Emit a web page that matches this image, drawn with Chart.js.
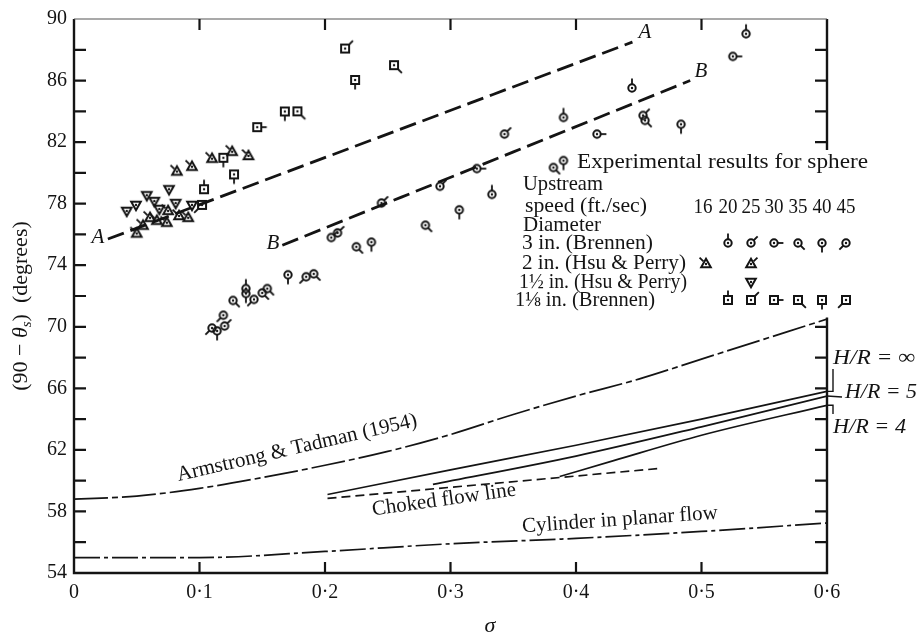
<!DOCTYPE html>
<html>
<head>
<meta charset="utf-8">
<script src="https://cdn.jsdelivr.net/npm/chart.js@4.4.0/dist/chart.umd.min.js"></script>
<style>
  html, body { margin: 0; padding: 0; background: #fff; }
  #wrap { width: 922px; height: 641px; }
</style>
</head>
<body>
<div id="wrap"><canvas id="chart" width="922" height="641"></canvas></div>
<script>
// ---- data (sigma, 90 - theta_s) ----
const xTicks = [0, 0.1, 0.2, 0.3, 0.4, 0.5, 0.6];
const yTickLabels = [54, 58, 62, 66, 70, 74, 78, 82, 86, 90];
const speeds = [16, 20, 25, 30, 35, 40, 45];

// dashed lines A and B
const lineAx = [0.027, 0.445];
const lineAy = [75.7, 88.5];
const lineBx = [0.166, 0.491];
const lineBy = [75.3, 86.0];

// Armstrong & Tadman (1954)
const armX = [0, 0.05, 0.1, 0.15, 0.2, 0.25, 0.3, 0.35, 0.4, 0.45, 0.5, 0.55, 0.6];
const armY = [58.8, 59.0, 59.5, 60.2, 61.0, 61.9, 63.0, 64.3, 65.5, 66.6, 67.9, 69.2, 70.5];

// H/R curves
const hrInfX = [0.202, 0.3, 0.4, 0.5, 0.6];
const hrInfY = [59.1, 60.7, 62.3, 64.0, 65.8];
const hr5X = [0.286, 0.4, 0.5, 0.6];
const hr5Y = [59.76, 61.6, 63.5, 65.5];
const hr4X = [0.387, 0.43, 0.5, 0.6];
const hr4Y = [60.27, 61.3, 62.95, 64.9];

// choked flow line
const chokedX = [0.202, 0.465];
const chokedY = [58.85, 60.78];

// cylinder in planar flow
const cylX = [0, 0.1, 0.2, 0.3, 0.4, 0.5, 0.6];
const cylY = [55.0, 55.0, 55.4, 55.9, 56.25, 56.7, 57.25];

// 3 in. (Brennen) circles, by upstream speed
const circ20 = [[0.39, 83.6], [0.333, 78.6], [0.5355, 89.04], [0.4446, 85.52], [0.137, 72.48]];
const circ25 = [[0.343, 82.52], [0.2916, 79.13], [0.245, 78.04], [0.4534, 83.73], [0.12, 70.05], [0.205, 75.8], [0.21, 76.1]];
const circ30 = [[0.321, 80.28], [0.525, 87.57], [0.4167, 82.52]];
const circ35 = [[0.382, 80.35], [0.455, 83.41], [0.191, 73.44], [0.15, 72.2], [0.154, 72.48], [0.1267, 71.71], [0.225, 75.2], [0.28, 76.6]];
const circ40 = [[0.39, 80.8], [0.4837, 83.16], [0.1705, 73.38], [0.137, 72.16], [0.114, 69.73], [0.237, 75.5], [0.307, 77.6]];
const circ45 = [[0.185, 73.25], [0.1434, 71.78], [0.119, 70.75], [0.11, 69.92]];

// 1 1/8 in. (Brennen) squares
const sq20 = [[0.1036, 78.94]];
const sq25 = [[0.216, 88.08]];
const sq30 = [[0.146, 82.97]];
const sq35 = [[0.178, 84.0], [0.255, 87.0]];
const sq40 = [[0.168, 83.99], [0.119, 80.98], [0.1275, 79.9], [0.224, 86.04]];
const sq45 = [[0.102, 77.92]];

// 2 in. (Hsu & Perry) triangles
const tri16 = [[0.082, 80.09], [0.094, 80.4], [0.11, 80.92], [0.126, 81.37], [0.139, 81.1],
    [0.050, 76.06], [0.055, 76.57], [0.0606, 77.08], [0.066, 76.89], [0.074, 76.76], [0.0837, 77.2], [0.091, 77.08], [0.075, 77.53]];

// 1 1/2 in. (Hsu & Perry) inverted triangles
const triDown25 = [[0.0757, 78.94], [0.058, 78.55], [0.064, 78.17], [0.068, 77.66], [0.081, 78.04], [0.094, 77.92], [0.0494, 77.92], [0.042, 77.53]];

// ---- drawing ----
const INK = '#141414';
const SERIF = '"Liberation Serif", "DejaVu Serif", serif';

// flag direction per speed (screen degrees, 0 = right, clockwise)
const FLAG = { 16: -135, 20: -90, 25: -45, 30: 0, 35: 45, 40: 90, 45: 135 };

function makeMarker(shape, flagAngle) {
    const c = document.createElement('canvas');
    c.width = 26; c.height = 26;
    const g = c.getContext('2d');
    g.translate(13, 13);
    g.strokeStyle = INK;
    g.fillStyle = INK;
    g.lineWidth = 2;
    g.beginPath();
    if (shape === 'circle') g.arc(0, 0, 3.7, 0, Math.PI * 2);
    else if (shape === 'square') g.rect(-4, -4, 8, 8);
    else if (shape === 'tri') { g.moveTo(0, -5.2); g.lineTo(4.8, 3.3); g.lineTo(-4.8, 3.3); g.closePath(); }
    else { g.moveTo(0, 5.2); g.lineTo(4.8, -3.3); g.lineTo(-4.8, -3.3); g.closePath(); }
    g.stroke();
    g.beginPath();
    g.arc(0, 0, 1.2, 0, Math.PI * 2);
    g.fill();
    if (flagAngle !== null) {
        const a = flagAngle * Math.PI / 180;
        let r = 3.9;
        if (shape === 'square') r = 4 / Math.max(Math.abs(Math.cos(a)), Math.abs(Math.sin(a)));
        if (shape === 'tri') r = 3.6;
        g.lineWidth = 1.8;
        g.beginPath();
        g.moveTo(Math.cos(a) * r, Math.sin(a) * r);
        g.lineTo(Math.cos(a) * (r + 5.5), Math.sin(a) * (r + 5.5));
        g.stroke();
    }
    return c;
}

const pts = arr => arr.map(p => ({ x: p[0], y: p[1] }));
const xy = (xs, ys) => xs.map((x, i) => ({ x, y: ys[i] }));

function markerSet(arr, shape, speed) {
    return {
        type: 'scatter',
        data: pts(arr),
        pointStyle: makeMarker(shape, speed === null ? null : FLAG[speed]),
        pointRadius: 5,
        pointHoverRadius: 5,
        order: 0
    };
}

function curve(xs, ys, dash, width, tension) {
    return {
        type: 'line',
        data: xy(xs, ys),
        borderColor: INK,
        borderWidth: width,
        borderDash: dash,
        pointRadius: 0,
        fill: false,
        tension: tension,
        cubicInterpolationMode: 'monotone',
        order: 1
    };
}

const datasets = [
    curve(lineAx, lineAy, [17, 7], 2.8, 0),
    curve(lineBx, lineBy, [17, 7], 2.8, 0),
    curve(armX, armY, [34, 4, 6, 4], 1.7, 0.4),
    curve(hrInfX, hrInfY, [], 1.7, 0.4),
    curve(hr5X, hr5Y, [], 1.7, 0.4),
    curve(hr4X, hr4Y, [], 1.7, 0.3),
    curve(chokedX, chokedY, [9, 5], 1.7, 0),
    curve(cylX, cylY, [26, 4, 4, 4], 1.7, 0.4),
    markerSet(circ20, 'circle', 20),
    markerSet(circ25, 'circle', 25),
    markerSet(circ30, 'circle', 30),
    markerSet(circ35, 'circle', 35),
    markerSet(circ40, 'circle', 40),
    markerSet(circ45, 'circle', 45),
    markerSet(sq20, 'square', 20),
    markerSet(sq25, 'square', 25),
    markerSet(sq30, 'square', 30),
    markerSet(sq35, 'square', 35),
    markerSet(sq40, 'square', 40),
    markerSet(sq45, 'square', 45),
    markerSet(tri16, 'tri', 16),
    markerSet(triDown25, 'tridown', null)
];

function text(g, str, x, y, size, opts = {}) {
    g.save();
    g.font = (opts.italic ? 'italic ' : '') + size + 'px ' + SERIF;
    g.fillStyle = INK;
    g.textAlign = opts.align || 'left';
    g.textBaseline = 'middle';
    g.translate(x, y);
    if (opts.rot) g.rotate(opts.rot * Math.PI / 180);
    if (opts.width) {
        const w = g.measureText(str).width;
        g.scale(opts.width / w, 1);
    }
    g.fillText(str, 0, 0);
    g.restore();
}

const annotations = {
    id: 'annotations',
    afterDatasetsDraw(chart) {
        const g = chart.ctx;
        const { left, right, top, bottom } = chart.chartArea;
        const sx = chart.scales.x, sy = chart.scales.y;
        const gapTop = 150, gapBottom = sy.getPixelForValue(70.6);

        // frame
        g.save();
        g.strokeStyle = INK;
        g.lineWidth = 2.4;
        g.beginPath();
        g.moveTo(left, top); g.lineTo(left, bottom); g.lineTo(right, bottom);
        g.lineTo(right, gapBottom);
        g.moveTo(right, gapTop); g.lineTo(right, top);
        g.stroke();
        g.lineWidth = 1.2;
        g.strokeStyle = '#555';
        g.beginPath(); g.moveTo(left, top); g.lineTo(right, top); g.stroke();

        // inward tick marks
        g.strokeStyle = INK;
        g.lineWidth = 2.2;
        g.beginPath();
        for (let v = 56; v < 90; v += 2) {
            const py = sy.getPixelForValue(v);
            g.moveTo(left, py); g.lineTo(left + 12, py);
            if (py < gapTop || py > gapBottom) { g.moveTo(right, py); g.lineTo(right - 12, py); }
        }
        xTicks.slice(1, -1).forEach(v => {
            const px = sx.getPixelForValue(v);
            g.moveTo(px, bottom); g.lineTo(px, bottom - 11);
            g.moveTo(px, top); g.lineTo(px, top + 11);
        });
        g.stroke();
        g.restore();

        // y axis title with subscript
        g.save();
        g.translate(21, 306);
        g.rotate(-Math.PI / 2);
        g.fillStyle = INK;
        g.textBaseline = 'middle';
        const f1 = '22px ' + SERIF, fi = 'italic 22px ' + SERIF, fs = 'italic 15px ' + SERIF;
        const parts = [['(90 \u2212 ', f1, 0], ['\u03b8', fi, 0], ['s', fs, 6], [')  (degrees)', f1, 0]];
        let total = 0;
        parts.forEach(p => { g.font = p[1]; total += g.measureText(p[0]).width; });
        let cx = -total / 2;
        parts.forEach(p => { g.font = p[1]; g.fillText(p[0], cx, p[2]); cx += g.measureText(p[0]).width; });
        g.restore();

        // x axis title
        text(g, '\u03c3', 490, 626, 22, { italic: true, align: 'center' });

        // line labels
        text(g, 'A', 98, 237, 21, { italic: true, align: 'center' });
        text(g, 'A', 645, 32, 21, { italic: true, align: 'center' });
        text(g, 'B', 273, 243, 21, { italic: true, align: 'center' });
        text(g, 'B', 701, 71, 21, { italic: true, align: 'center' });
        text(g, 'Armstrong & Tadman (1954)', 297, 448, 21, { align: 'center', rot: -13, width: 246 });
        text(g, 'Choked flow line', 444, 500, 21, { align: 'center', rot: -8, width: 145 });
        text(g, 'Cylinder in planar flow', 620, 520, 21, { align: 'center', rot: -4, width: 196 });

        // H/R labels with leaders
        const yInf = sy.getPixelForValue(hrInfY[hrInfY.length - 1]);
        const y5 = sy.getPixelForValue(hr5Y[hr5Y.length - 1]);
        const y4 = sy.getPixelForValue(hr4Y[hr4Y.length - 1]);
        g.save();
        g.strokeStyle = INK; g.lineWidth = 1.4;
        g.beginPath();
        g.moveTo(right, yInf); g.lineTo(right + 6, yInf); g.lineTo(right + 6, 369);
        g.moveTo(right, y5); g.lineTo(right + 15, y5 + 1);
        g.moveTo(right, y4); g.lineTo(right + 6, y4); g.lineTo(right + 6, 414);
        g.stroke();
        g.restore();
        text(g, 'H/R = \u221e', 833, 358, 22, { italic: true, width: 82 });
        text(g, 'H/R = 5', 845, 392, 22, { italic: true, width: 72 });
        text(g, 'H/R = 4', 833, 427, 22, { italic: true, width: 73 });

        // legend block
        text(g, 'Experimental results for sphere', 577, 162, 21, { width: 291 });
        text(g, 'Upstream', 523, 184, 21, { width: 80 });
        text(g, 'speed (ft./sec)', 525, 206, 21, { width: 122 });
        text(g, 'Diameter', 523, 225, 21, { width: 78 });
        text(g, '3 in. (Brennen)', 522, 243, 21, { width: 131 });
        text(g, '2 in. (Hsu & Perry)', 522, 263, 21, { width: 164 });
        text(g, '1\u00bd in. (Hsu & Perry)', 519, 282, 21, { width: 168 });
        text(g, '1\u215b in. (Brennen)', 515, 300, 21, { width: 140 });
        const colX = [703, 728, 751, 774, 798, 822, 846];
        speeds.forEach((s, i) => text(g, String(s), colX[i], 207, 21, { align: 'center', width: 19 }));
        const draw = (m, x, y) => g.drawImage(m, x - 13, y - 13);
        [20, 25, 30, 35, 40, 45].forEach(s => {
            const i = speeds.indexOf(s);
            draw(makeMarker('circle', FLAG[s]), colX[i], 243);
            draw(makeMarker('square', FLAG[s]), colX[i], 300);
        });
        draw(makeMarker('tri', FLAG[16]), colX[0] + 3, 264);
        draw(makeMarker('tri', FLAG[25]), colX[2], 264);
        draw(makeMarker('tridown', null), colX[2], 282);
    }
};

new Chart(document.getElementById('chart'), {
    type: 'scatter',
    data: { datasets },
    options: {
        responsive: false,
        animation: false,
        events: [],
        layout: { padding: { top: 10, right: 95, left: 0, bottom: 0 } },
        plugins: { legend: { display: false }, tooltip: { enabled: false } },
        scales: {
            x: {
                type: 'linear', min: 0, max: 0.6,
                afterBuildTicks: s => { s.ticks = xTicks.map(v => ({ value: v })); },
                afterFit: s => { s.height = 68; },
                grid: { display: false, drawTicks: false },
                border: { display: false },
                ticks: {
                    padding: 8, color: INK, font: { family: SERIF, size: 20 }, maxRotation: 0,
                    callback: v => v === 0 ? '0' : (Math.round(v * 10) / 10).toFixed(1).replace('.', '\u00b7')
                }
            },
            y: {
                type: 'linear', min: 54, max: 90,
                afterBuildTicks: s => { s.ticks = yTickLabels.map(v => ({ value: v })); },
                afterFit: s => { s.width = 74; },
                grid: { display: false, drawTicks: false },
                border: { display: false },
                ticks: { padding: 7, color: INK, font: { family: SERIF, size: 20 } }
            }
        }
    },
    plugins: [annotations]
});
</script>
</body>
</html>
